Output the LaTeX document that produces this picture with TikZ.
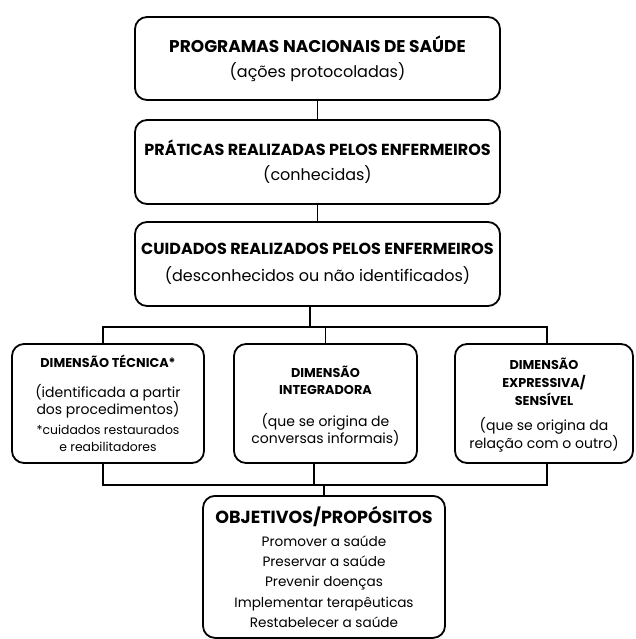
\documentclass[tikz,border=0pt]{standalone}
\usepackage{fontspec}
\setmainfont{Poppins}
\begin{document}
\begin{tikzpicture}[x=1pt,y=-1pt,
  box/.style={draw, line width=1.8pt, rounded corners=12pt, align=center, inner sep=0pt},
  txt/.style={align=center, inner sep=0pt},
  conn/.style={line width=1.8pt},
  topfont/.style={font=\fontsize{16}{20}\selectfont}]
\useasboundingbox (0,0) rectangle (635,639);
\clip (0,0) rectangle (635,639);
% top boxes
\node[box, minimum width=365pt, minimum height=83pt, topfont] (p) at (317.5,58.5)
  {\fontsize{17}{20}\selectfont\textbf{PROGRAMAS NACIONAIS DE SAÚDE}\\[5pt]\fontsize{16}{20}\selectfont(ações protocoladas)};
\node[box, minimum width=365pt, minimum height=84pt, topfont] (q) at (317.5,162)
  {\textbf{PRÁTICAS REALIZADAS PELOS ENFERMEIROS}\\[5pt](conhecidas)};
\node[box, minimum width=365pt, minimum height=84pt, topfont] (c) at (317.5,264)
  {\textbf{CUIDADOS REALIZADOS PELOS ENFERMEIROS}\\[7pt](desconhecidos ou não identificados)};
% dimension boxes
\node[box, minimum width=192pt, minimum height=119pt] (a) at (108,403.5) {};
\node[txt, font=\fontsize{14}{17}\selectfont] (at) at (108,403)
  {\fontsize{12.8}{17}\selectfont\textbf{DIMENSÃO TÉCNICA*}\\[13pt]\fontsize{14}{17}\selectfont(identificada a partir\\\fontsize{14}{17}\selectfont dos procedimentos)\\[3pt]\fontsize{12.4}{17}\selectfont *cuidados restaurados\\\fontsize{12.4}{17}\selectfont e reabilitadores};
\node[box, minimum width=183pt, minimum height=119pt] (m) at (325.5,403.5) {};
\node[txt, font=\fontsize{14}{17}\selectfont] (mt) at (325.5,406)
  {\fontsize{12.8}{18}\selectfont\textbf{DIMENSÃO}\\\fontsize{12.8}{18}\selectfont\textbf{INTEGRADORA}\\[15pt]\fontsize{14}{16.5}\selectfont(que se origina de\\\fontsize{14}{16.5}\selectfont conversas informais)};
\node[box, minimum width=178pt, minimum height=119pt] (r) at (544,403.5) {};
\node[txt, font=\fontsize{14}{18}\selectfont] (rt) at (544,405)
  {\fontsize{12.8}{18}\selectfont\textbf{DIMENSÃO}\\\fontsize{12.8}{18}\selectfont\textbf{EXPRESSIVA/}\\\fontsize{12.8}{18}\selectfont\textbf{SENSÍVEL}\\[7pt]\fontsize{14}{17}\selectfont(que se origina da\\\fontsize{14}{17}\selectfont relação com o outro)};
% objectives box
\node[box, minimum width=242pt, minimum height=142pt, anchor=north] (o) at (324,495) {};
\node[font=\fontsize{17.5}{20}\selectfont\bfseries, inner sep=0pt] (ot) at (324,517) {OBJETIVOS/PROPÓSITOS};
\node[txt, font=\fontsize{13.6}{20.3}\selectfont, anchor=north] (ol) at (324,535.5)
  {Promover a saúde\\Preservar a saúde\\Prevenir doenças\\Implementar terapêuticas\\Restabelecer a saúde};
% connectors
\coordinate (h1l) at (103,327);
\coordinate (h1r) at (547,327);
\coordinate (h1c) at (310,327);
\coordinate (h2l) at (103,485);
\coordinate (h2r) at (547,485);
\coordinate (h2m) at (314,485);
\draw[conn] (p.south) -- (q.north);
\draw[conn] (q.south) -- (c.north);
\draw[conn] (h1c |- c.south) -- (h1c);
\draw[conn] (h1l |- a.north) -- (h1l) -- (h1r) -- (h1r |- r.north);
\draw[conn] (m.north) -- (m.north |- h1l);
\draw[conn] (h2l |- a.south) -- (h2l) -- (h2r) -- (h2r |- r.south);
\draw[conn] (h2m |- m.south) -- (h2m);
\draw[conn] (o.north) -- (o.north |- h2l);
\end{tikzpicture}
\end{document}
